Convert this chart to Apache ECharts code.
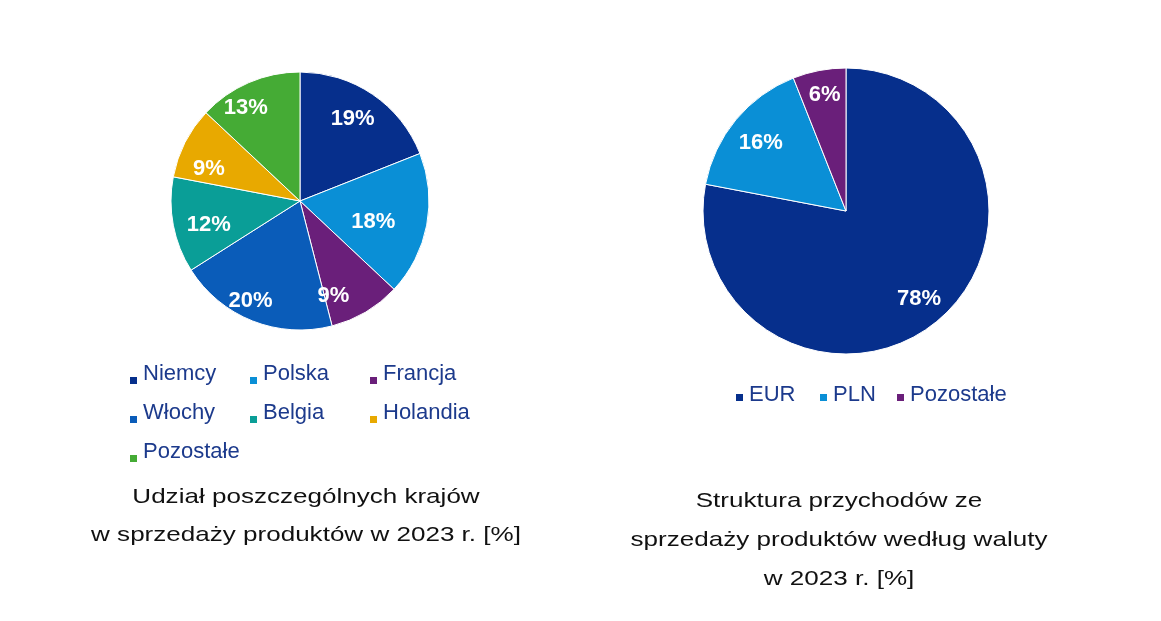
<!DOCTYPE html>
<html><head><meta charset="utf-8">
<script src="https://cdn.jsdelivr.net/npm/echarts@6/dist/echarts.min.js"></script>
<style>html,body{margin:0;padding:0;background:#fff}#c{width:1161px;height:621px}</style>
</head><body><div id="c"></div>
<script>
const countries = ['Niemcy', 'Polska', 'Francja', 'Włochy', 'Belgia', 'Holandia', 'Pozostałe'];
const countryShares = [19, 18, 9, 20, 12, 9, 13];
const countryColors = ['#062f8c', '#0a8fd6', '#6a1f7a', '#0a5cb9', '#0a9e97', '#e8a900', '#45ab35'];
const currencies = ['EUR', 'PLN', 'Pozostałe'];
const currencyShares = [78, 16, 6];
const currencyColors = ['#062f8c', '#0a8fd6', '#6a1f7a'];
const title1 = 'Udział poszczególnych krajów\nw sprzedaży produktów w 2023 r. [%]';
const title2 = 'Struktura przychodów ze\nsprzedaży produktów według waluty\nw 2023 r. [%]';
// label nudges (style only): small shifts of the in-slice labels, in px
const countryLabelNudge = [[-3, 0], [-24, 2], [-17, 10], [-13, 8], [6, 5], [-3, 13], [-15, -2]];
const currencyLabelNudge = [[0, 0], [3, 5], [0, -4]];

const FONT = 'Liberation Sans, Arial, sans-serif';
const LEG_COLOR = '#1c3a8c';
const legTok = { color: LEG_COLOR, fontSize: 22, fontFamily: FONT, lineHeight: 22 };

function nudgePad(n) {
  const dx = n[0], dy = n[1];
  return [Math.max(2 * dy, 0), Math.max(-2 * dx, 0), Math.max(-2 * dy, 0), Math.max(2 * dx, 0)];
}

const d1 = countries.map((n, i) => ({ name: n, value: countryShares[i], itemStyle: { color: countryColors[i] } }));
const d2 = currencies.map((n, i) => ({ name: n + '\u200b', value: currencyShares[i], itemStyle: { color: currencyColors[i] } }));
const d1lbl = countries.map((n, i) => ({ name: n + ' ', value: countryShares[i], label: { padding: nudgePad(countryLabelNudge[i]) } }));
const d2lbl = currencies.map((n, i) => ({ name: n + ' ', value: currencyShares[i], label: { padding: nudgePad(currencyLabelNudge[i]) } }));

const valTok = { color: '#fff', fontWeight: 'bold', fontSize: 22, fontFamily: FONT, lineHeight: 24 };
const labelStyle = { show: true, position: 'inside', color: '#fff', fontWeight: 'bold', fontSize: 22, fontFamily: FONT,
  formatter: p => '{v|' + p.value + '%}', rich: { v: valTok } };

function colLegend(names, left, top) {
  return {
    orient: 'vertical', left: left, top: top, itemGap: 16, padding: 0,
    icon: 'rect', itemWidth: 9, itemHeight: 9,
    textStyle: { color: LEG_COLOR, fontSize: 22, fontFamily: FONT, padding: [0, 0, 13, 0], rich: { t: legTok } },
    formatter: n => '{t|' + n + '}',
    data: names, selectedMode: false
  };
}
function curLegend(i, left) {
  return {
    orient: 'horizontal', left: left, top: 384, padding: 0, icon: 'rect', itemWidth: 9, itemHeight: 9,
    textStyle: { color: LEG_COLOR, fontSize: 22, fontFamily: FONT, padding: [0, 0, 5, 0], rich: { t: legTok } },
    selectedMode: false,
    data: [{ name: currencies[i] + '\u200b', itemStyle: { color: currencyColors[i] } }],
    formatter: n => '{t|' + n.replace('\u200b', '') + '}'
  };
}

const chart = echarts.init(document.getElementById('c'));
chart.setOption({
  animation: false,
  graphic: [
    { type: 'text', x: 306, y: 478, scaleX: 1.24, silent: true,
      style: { text: title1, fontFamily: FONT, fontSize: 21, fill: '#111', align: 'center', verticalAlign: 'top', lineHeight: 38 } },
    { type: 'text', x: 839, y: 482, scaleX: 1.24, silent: true,
      style: { text: title2, fontFamily: FONT, fontSize: 21, fill: '#111', align: 'center', verticalAlign: 'top', lineHeight: 39 } }
  ],
  legend: [
    colLegend([countries[0], countries[3], countries[6]], 128, 363),
    colLegend([countries[1], countries[4]], 248, 363),
    colLegend([countries[2], countries[5]], 368, 363),
    curLegend(0, 734), curLegend(1, 818), curLegend(2, 895)
  ],
  series: [
    { type: 'pie', center: [300, 201], radius: [0, 129], startAngle: 90, clockwise: true,
      label: { show: false }, labelLine: { show: false }, silent: true,
      itemStyle: { borderColor: '#fff', borderWidth: 1 }, data: d1 },
    { type: 'pie', center: [300, 201], radius: [63, 129], startAngle: 90, clockwise: true,
      itemStyle: { color: 'rgba(0,0,0,0)' }, silent: true, label: labelStyle, labelLine: { show: false },
      data: d1lbl, legendHoverLink: false },
    { type: 'pie', center: [846, 211], radius: [0, 143], startAngle: 90, clockwise: true,
      label: { show: false }, labelLine: { show: false }, silent: true,
      itemStyle: { borderColor: '#fff', borderWidth: 1 }, data: d2 },
    { type: 'pie', center: [846, 211], radius: [80, 143], startAngle: 90, clockwise: true,
      itemStyle: { color: 'rgba(0,0,0,0)' }, silent: true, label: labelStyle, labelLine: { show: false },
      data: d2lbl }
  ]
});
</script></body></html>
